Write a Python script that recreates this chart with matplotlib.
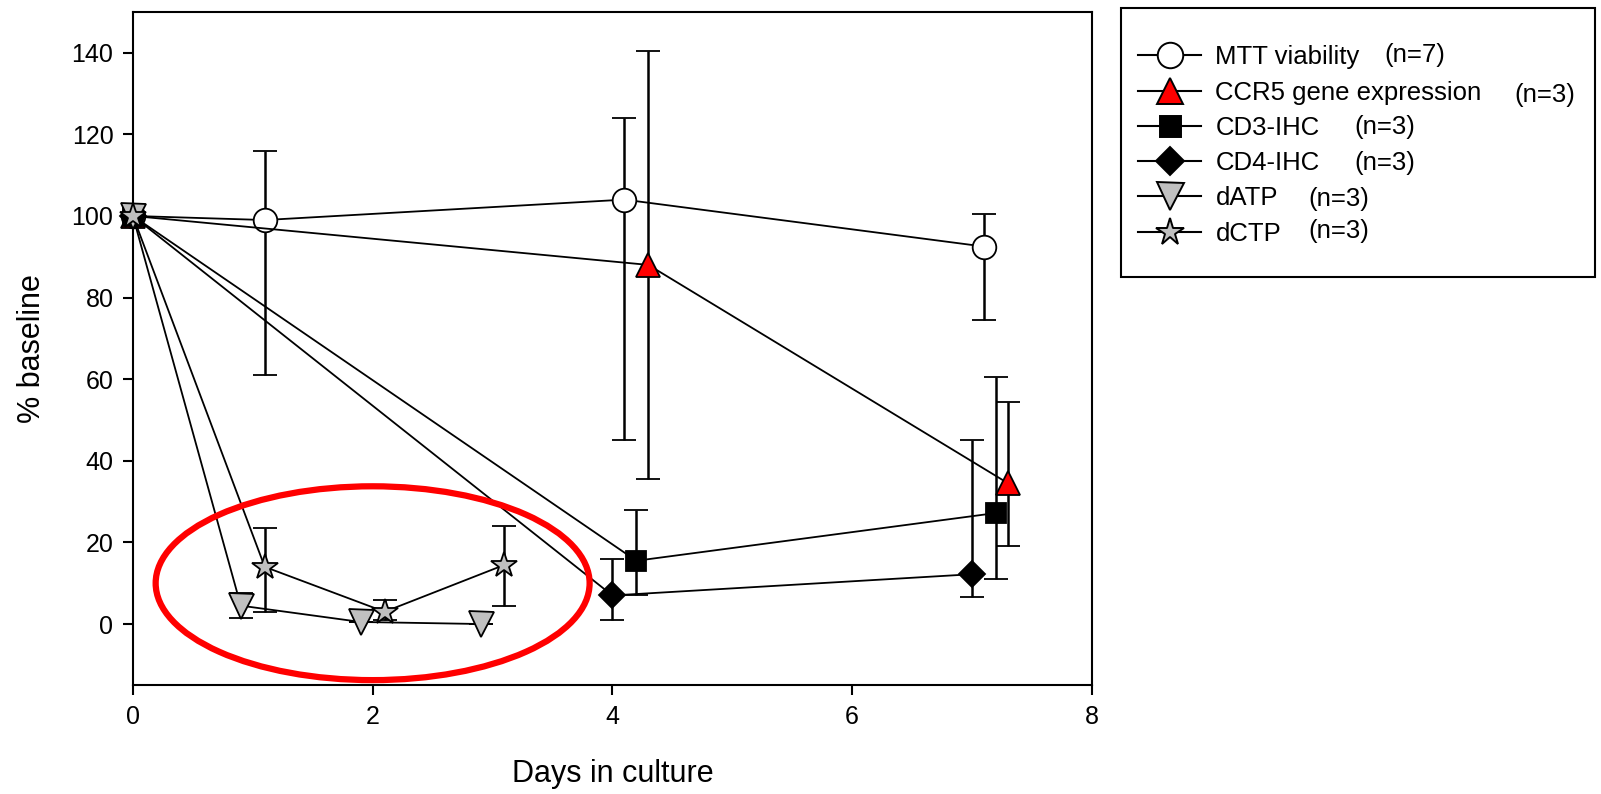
import matplotlib
matplotlib.use("Agg")
import matplotlib.pyplot as plt
from matplotlib.patches import Ellipse, Rectangle
from matplotlib.lines import Line2D
import numpy as np

plt.rcParams['font.family'] = ['Liberation Sans', 'DejaVu Sans']

# ---- data ----
mtt_x = [0, 1.1, 4.1, 7.1]
mtt_y = [100, 99, 104, 92.5]
mtt_lo = [100, 61, 45, 74.5]
mtt_hi = [100, 116, 124, 100.5]

ccr5_x = [0, 4.3, 7.3]
ccr5_y = [100, 88, 34.5]
ccr5_lo = [100, 35.5, 19]
ccr5_hi = [100, 140.5, 54.5]

cd3_x = [0, 4.2, 7.2]
cd3_y = [100, 15.5, 27.2]
cd3_lo = [100, 7, 11]
cd3_hi = [100, 28, 60.5]

cd4_x = [0, 4.0, 7.0]
cd4_y = [100, 7, 12.2]
cd4_lo = [100, 1, 6.5]
cd4_hi = [100, 16, 45]

datp_x = [0, 0.9, 1.9, 2.9]
datp_y = [100, 4.5, 0.5, 0]
datp_lo = [100, 1.5, 0.5, 0]
datp_hi = [100, 7.5, 0.5, 0]

dctp_x = [0, 1.1, 2.1, 3.1]
dctp_y = [100, 14, 3, 14.5]
dctp_lo = [100, 3, 1, 4.5]
dctp_hi = [100, 23.5, 6, 24]

names = ["MTT viability", "CCR5 gene expression", "CD3-IHC", "CD4-IHC", "dATP", "dCTP"]
n_labels = ["(n=7)", "(n=3)", "(n=3)", "(n=3)", "(n=3)", "(n=3)"]

xticks = [0, 2, 4, 6, 8]
yticks = [0, 20, 40, 60, 80, 100, 120, 140]

fig = plt.figure(figsize=(16.01, 7.94), dpi=100)
ax = fig.add_axes([0.083, 0.137, 0.599, 0.848])

series = [
    (mtt_x, mtt_y, mtt_lo, mtt_hi, dict(marker='o', ms=17, mfc='white')),
    (ccr5_x, ccr5_y, ccr5_lo, ccr5_hi, dict(marker='^', ms=17, mfc='#ff0000')),
    (cd3_x, cd3_y, cd3_lo, cd3_hi, dict(marker='s', ms=14, mfc='black')),
    (cd4_x, cd4_y, cd4_lo, cd4_hi, dict(marker='D', ms=13, mfc='black')),
    (datp_x, datp_y, datp_lo, datp_hi, dict(marker='v', ms=18, mfc='#c0c0c0')),
    (dctp_x, dctp_y, dctp_lo, dctp_hi, dict(marker='*', ms=19, mfc='#c0c0c0')),
]

handles = []
for i, (x, y, lo, hi, st) in enumerate(series):
    x = np.array(x); y = np.array(y); lo = np.array(lo); hi = np.array(hi)
    yerr = np.vstack([y - lo, hi - y])
    cont = ax.errorbar(x, y, yerr=yerr, color='black', lw=1.3, elinewidth=1.8,
                       capsize=8.5, capthick=1.8, mec='black', mew=1.3,
                       zorder=3 + i, **st)
    for art in cont.get_children():
        art.set_clip_on(False)
    hst = dict(st)
    hst['ms'] = st['ms'] * 1.08
    handles.append(Line2D([0], [0], color='black', lw=1.5, mec='black', mew=1.4, **hst))

ax.add_patch(Ellipse((2.0, 10), 3.62, 47.5, fill=False, ec='#ff0000', lw=4.5, zorder=10))

ax.set_xlim(0, 8)
ax.set_ylim(-15, 150)
ax.set_xticks(xticks)
ax.set_yticks(yticks)
ax.tick_params(direction='out', length=7, width=1.5, labelsize=18, pad=7,
               top=False, right=False)
for s in ax.spines.values():
    s.set_linewidth(1.5)
ax.set_xlabel("Days in culture", fontsize=22, labelpad=22)
ax.set_ylabel("% baseline", fontsize=22, labelpad=18)

# legend box
fig.patches.append(Rectangle((0.700, 0.651), 0.296, 0.339, transform=fig.transFigure,
                             fill=False, ec='black', lw=1.5))
leg = fig.legend(handles, names, loc='upper left', bbox_to_anchor=(0.711, 0.943),
                 frameon=False, fontsize=18.5, handlelength=2.45, labelspacing=0.44,
                 borderaxespad=0, borderpad=0, handletextpad=0.55)

# sample-size annotations, placed per row
n_x = [0.865, 0.946, 0.846, 0.846, 0.817, 0.817]
n_y = [0.931, 0.880, 0.840, 0.795, 0.749, 0.709]
for t, xx, yy in zip(n_labels, n_x, n_y):
    fig.text(xx, yy, t, fontsize=18.5, ha='left', va='center')

fig.savefig("out.png", dpi=100)
